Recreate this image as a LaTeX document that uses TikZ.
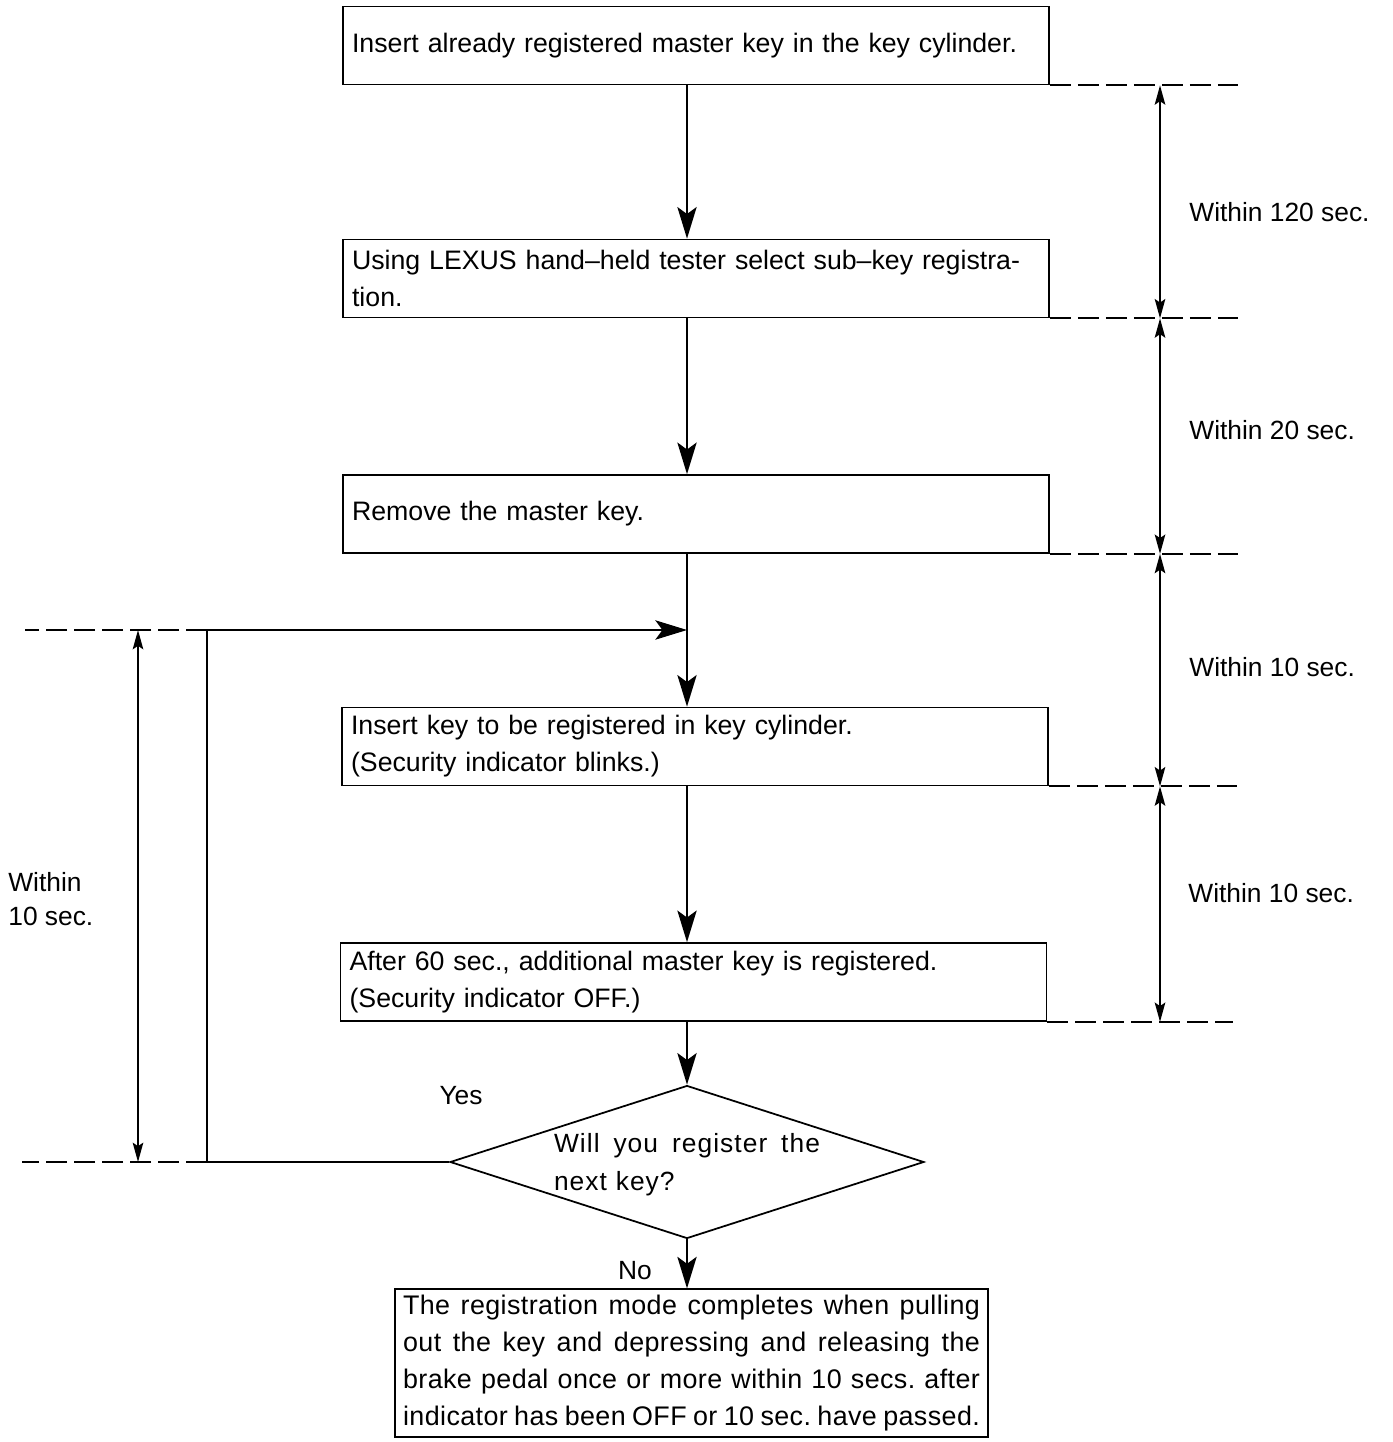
\documentclass[tikz,border=0pt]{standalone}
\usepackage{fontspec}
\setmainfont{Liberation Sans}
\usetikzlibrary{shapes.geometric,arrows.meta}
\frenchspacing
\tikzstyle{stepbox}=[draw, line width=1pt, minimum width=14.12cm, minimum height=1.56cm,
text width=13.76cm, inner xsep=0.18cm, align=left, font=\fontsize{15.2pt}{21pt}\selectfont]
\tikzstyle{endbox}=[draw, line width=1pt, minimum width=11.86cm, minimum height=2.9cm,
text width=11.54cm, inner xsep=0.16cm, align=left,
font=\fontsize{15.3pt}{21pt}\selectfont\addfontfeatures{LetterSpace=1.5}]
\tikzstyle{decision}=[diamond, draw, line width=1pt, minimum width=9.48cm, minimum height=3.06cm,
aspect=3.1, inner sep=0pt]
\tikzstyle{question}=[inner sep=0pt, text width=5.32cm, align=left,
font=\fontsize{15pt}{21.5pt}\selectfont\addfontfeatures{LetterSpace=4}]
\tikzstyle{flow}=[line width=1pt, -{Stealth[length=18pt,width=11pt,inset=4pt]}]
\tikzstyle{dimarrow}=[line width=1pt, {Stealth[length=11pt,width=6pt,inset=2pt]}-{Stealth[length=11pt,width=6pt,inset=2pt]}]
\tikzstyle{dimline}=[line width=1pt, dash pattern=on 0.42cm off 0.14cm]
\tikzstyle{timelabel}=[anchor=west, inner sep=0pt, align=left, font=\fontsize{15pt}{19pt}\selectfont]
% one line spread over the given width
\newcommand{\fullline}[2]{{\spaceskip=0pt\xspaceskip=0pt\makebox[#1][s]{#2}}}

\begin{document}
\begin{tikzpicture}[x=0.02cm,y=-0.02cm]
\useasboundingbox (0,0) rectangle (1392,1442);
% steps
\node[stepbox](b1) at (696,45.5) {Insert already registered master key in the key cylinder.};
\node[stepbox](b2) at (696,278.5) {Using LEXUS hand--held tester select sub--key registra-\\tion.};
\node[stepbox](b3) at (696,514) {Remove the master key.};
\node[stepbox](b4) at (695,746.5) {Insert key to be registered in key cylinder.\\(Security indicator blinks.)};
\node[stepbox](b5) at (693.5,982) {After 60 sec., additional master key is registered.\\(Security indicator OFF.)};
\node[decision](dec) at (687,1162) {};
\node[question](qtext) at (687,1165) {\fullline{5.32cm}{Will you register the}\\next key?};
\node[endbox](final) at (691.5,1363) {\fullline{11.54cm}{The registration mode completes when pulling}\\
\fullline{11.54cm}{out the key and depressing and releasing the}\\
\fullline{11.54cm}{brake pedal once or more within 10 secs. after}\\
\fullline{11.54cm}{indicator has been OFF or 10 sec. have passed.}};
\node(yes) at (461,1096) {\fontsize{15pt}{19pt}\selectfont Yes};
\node(no) at (635,1271) {\fontsize{15pt}{19pt}\selectfont No};
% main flow
\draw[flow](b1.south -| dec.north) -- (b2.north -| dec.north);
\draw[flow](b2.south -| dec.north) -- (b3.north -| dec.north);
\draw[flow](b3.south -| dec.north) -- (b4.north -| dec.north);
\draw[flow](b4.south -| dec.north) -- (b5.north -| dec.north);
\draw[flow](b5.south -| dec.north) -- (dec.north);
\draw[flow](dec.south) -- (final.north -| dec.south);
% loop back
\coordinate(loopin) at (687,630);
\coordinate(loopx) at (207,630);
\draw[flow](dec.west) -| (loopx) -- (loopin);
% time limits, right
\coordinate(dimright) at (1160,0);
\draw[dimline](b1.south east) -- ++(188,0);
\draw[dimline](b2.south east) -- ++(188,0);
\draw[dimline](b3.south east) -- ++(188,0);
\draw[dimline](b4.south east) -- ++(188,0);
\draw[dimline](b5.south east) -- ++(186,0);
\draw[dimarrow](b1.south east -| dimright) -- (b2.south east -| dimright);
\draw[dimarrow](b2.south east -| dimright) -- (b3.south east -| dimright);
\draw[dimarrow](b3.south east -| dimright) -- (b4.south east -| dimright);
\draw[dimarrow](b4.south east -| dimright) -- (b5.south east -| dimright);
\node[timelabel](t1) at (1189,212) {Within 120 sec.};
\node[timelabel](t2) at (1189,430) {Within 20 sec.};
\node[timelabel](t3) at (1189,667) {Within 10 sec.};
\node[timelabel](t4) at (1188,893) {Within 10 sec.};
% time limit, left
\coordinate(dimleft) at (138,0);
\draw[dimline](loopx) -- ++(-182,0);
\draw[dimline](dec.west -| loopx) -- ++(-185,0);
\draw[dimarrow](loopx -| dimleft) -- (dec.west -| dimleft);
\node[timelabel](t5) at (8,899) {Within\\10 sec.};
\end{tikzpicture}
\end{document}
